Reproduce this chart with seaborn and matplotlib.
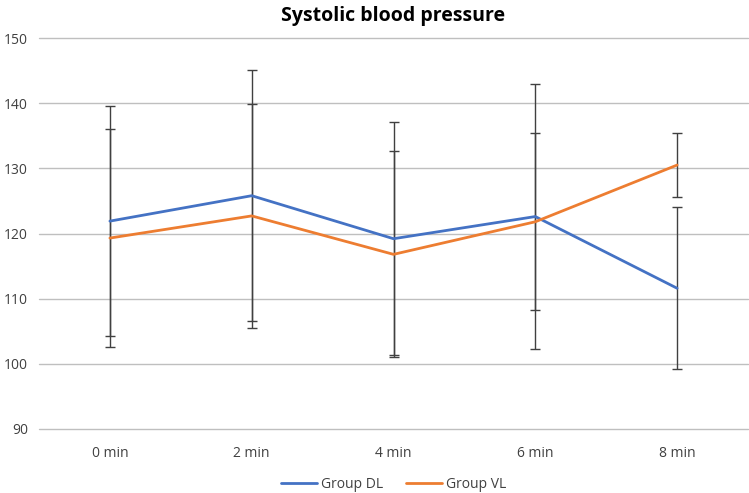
import pandas as pd
import seaborn as sns
import matplotlib.pyplot as plt

# data
times = ["0 min", "2 min", "4 min", "6 min", "8 min"]
dl_mean = [121.9, 125.8, 119.2, 122.6, 111.6]
dl_sd = [17.7, 19.3, 17.9, 20.3, 12.4]
vl_mean = [119.3, 122.7, 116.8, 121.8, 130.5]
vl_sd = [16.7, 17.2, 15.8, 13.6, 4.9]

df = pd.DataFrame({
    "Time": times * 2,
    "SBP": dl_mean + vl_mean,
    "SD": dl_sd + vl_sd,
    "Group": ["Group DL"] * 5 + ["Group VL"] * 5,
})

sns.set_style("white")
plt.rcParams["font.family"] = ["Open Sans", "DejaVu Sans"]

fig = plt.figure(figsize=(7.49, 4.93), dpi=100)
ax = fig.add_axes([39 / 749, 1 - 429 / 493, 709 / 749, 391 / 493])

colors = ["#4472C4", "#ED7D31"]
sns.lineplot(data=df, x="Time", y="SBP", hue="Group", palette=colors,
             linewidth=2, ax=ax, zorder=3, sort=False)

for g in ["Group DL", "Group VL"]:
    d = df[df["Group"] == g]
    ax.errorbar(d["Time"], d["SBP"], yerr=d["SD"], fmt="none",
                ecolor="#404040", elinewidth=1, capsize=3.5, capthick=1, zorder=2)

ax.set_ylim(90, 150)
ax.set_xlim(-0.5, 4.5)
ax.set_yticks(range(90, 151, 10))
ax.yaxis.grid(True, color="#BFBFBF", linewidth=1)
ax.xaxis.grid(False)
for gl in ax.get_ygridlines():
    gl.set_clip_on(False)
for s in ax.spines.values():
    s.set_visible(False)
ax.tick_params(axis="both", length=0, labelsize=10, colors="#404040", pad=8)
ax.tick_params(axis="x", pad=12)
ax.set_xlabel("")
ax.set_ylabel("")
ax.set_title("Systolic blood pressure", fontsize=14, fontweight="bold",
             color="#000000", pad=12)

ax.legend(loc="upper center", bbox_to_anchor=(0.5, -0.09), ncol=2,
          frameon=False, fontsize=10, handlelength=2.6, handletextpad=0.3,
          columnspacing=1.6, labelcolor="#404040")

plt.savefig("out.png", dpi=100)
